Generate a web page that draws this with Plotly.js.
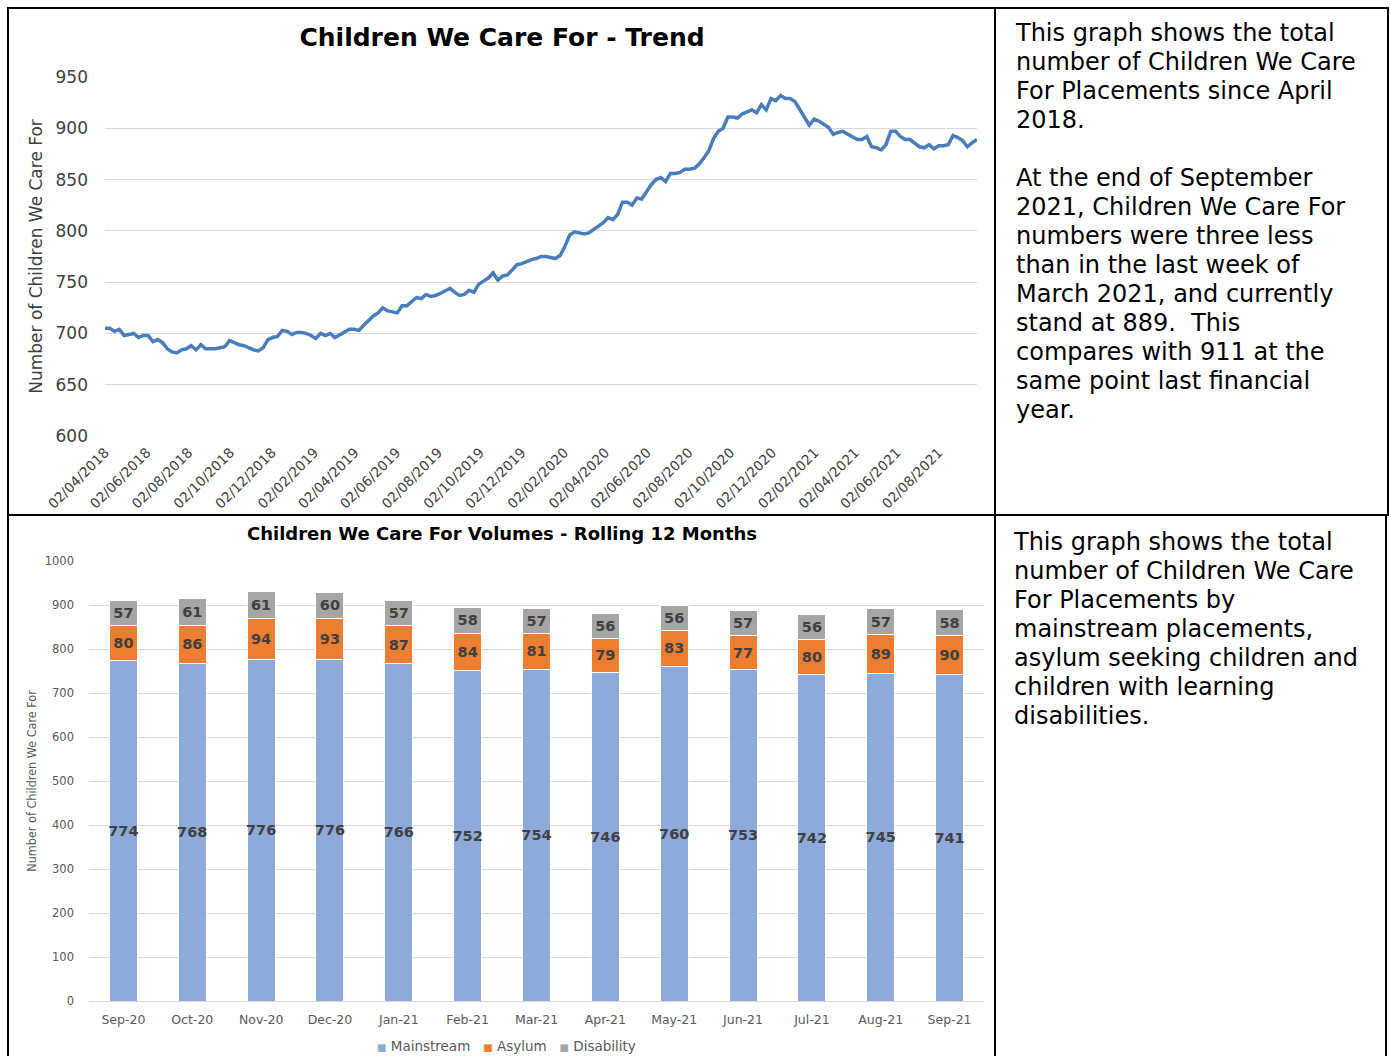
<!DOCTYPE html>
<html>
<head>
<meta charset="utf-8">
<script src="https://cdn.plot.ly/plotly-3.0.1.min.js"></script>
<style>
  html, body { margin: 0; padding: 0; background: #ffffff; }
  body { width: 1390px; height: 1056px; position: relative; overflow: hidden; font-family: "DejaVu Sans", Verdana, sans-serif; }
  .ln { position: absolute; background: #000; }
  .txt { position: absolute; font-family: "DejaVu Sans", Verdana, sans-serif; font-size: 24px; line-height: 29px; color: #000; white-space: nowrap; }
  #trend { position: absolute; left: 10px; top: 10px; width: 984px; height: 504px; }
  #volumes { position: absolute; left: 10px; top: 517px; width: 984px; height: 539px; }
</style>
</head>
<body>
<div id="trend"></div>
<div id="volumes"></div>

<div class="ln" style="left:8px; top:7px; width:1381px; height:2px;"></div>
<div class="ln" style="left:8px; top:514px; width:1381px; height:2px;"></div>
<div class="ln" style="left:7px; top:7px; width:2px; height:1049px;"></div>
<div class="ln" style="left:994px; top:7px; width:2px; height:1049px;"></div>
<div class="ln" style="left:1387px; top:7px; width:2px; height:509px;"></div>
<div class="ln" style="left:1385px; top:514px; width:2px; height:542px;"></div>

<div class="txt" style="left:1016px; top:19px;">This graph shows the total<br>number of Children We Care<br>For Placements since April<br>2018.<br><br>At the end of September<br>2021, Children We Care For<br>numbers were three less<br>than in the last week of<br>March 2021, and currently<br>stand at 889.&nbsp; This<br>compares with 911 at the<br>same point last financial<br>year.</div>

<div class="txt" style="left:1014px; top:528px;">This graph shows the total<br>number of Children We Care<br>For Placements by<br>mainstream placements,<br>asylum seeking children and<br>children with learning<br>disabilities.</div>

<script>
// ---------- Top chart: weekly trend ----------
const trendStart = '2018-04-02';
const trendValues = [
  705,705,702,704,698,699,700,696,698,698,692,694,691,685,682,681,684,685,688,684,689,685,685,685,686,687,693,691,689,688,686,
  684,683,686,694,696,697,703,702,699,701,701,700,698,695,700,698,700,696,699,702,704,704,703,708,713,717,720,725,722,721,
  720,727,727,731,735,734,738,736,737,739,742,744,740,737,738,742,740,748,751,754,759,752,756,757,762,767,768,770,772,773,
  775,775,774,773,776,785,796,799,798,797,798,801,804,808,813,811,816,828,828,825,832,831,838,845,850,852,848,856,856,857,
  860,860,861,865,871,878,890,897,900,911,911,910,914,916,918,915,923,918,929,927,932,929,929,926,918,910,903,909,907,904,
  901,894,896,897,894,892,889,889,892,882,881,879,884,897,897,892,889,889,886,882,881,884,880,883,883,884,893,891,888,882,886,889
];
const trendTickLabels = ['02/04/2018','02/06/2018','02/08/2018','02/10/2018','02/12/2018','02/02/2019','02/04/2019',
  '02/06/2019','02/08/2019','02/10/2019','02/12/2019','02/02/2020','02/04/2020','02/06/2020','02/08/2020',
  '02/10/2020','02/12/2020','02/02/2021','02/04/2021','02/06/2021','02/08/2021'];

function isoFromDmy(s) { const p = s.split('/'); return p[2] + '-' + p[1] + '-' + p[0]; }
const trendDates = [];
{
  const d0 = new Date(trendStart + 'T00:00:00Z');
  for (let i = 0; i < trendValues.length; i++) {
    const d = new Date(d0.getTime() + i * 7 * 86400000);
    trendDates.push(d.toISOString().slice(0, 10));
  }
}

const FONT = 'DejaVu Sans, Verdana, sans-serif';

Plotly.newPlot('trend', [{
  type: 'scatter', mode: 'lines',
  x: trendDates, y: trendValues,
  line: { color: '#4a7ebb', width: 3.5 },
  hoverinfo: 'x+y'
}], {
  width: 984, height: 504,
  margin: { l: 95, r: 17, t: 67, b: 78, pad: 0, autoexpand: false },
  paper_bgcolor: '#ffffff', plot_bgcolor: '#ffffff',
  showlegend: false,
  title: { text: '<b>Children We Care For - Trend</b>', font: { family: FONT, size: 25, color: '#000000' },
           xref: 'container', x: 0.5, xanchor: 'center', yref: 'container', y: 1 - 27 / 504, yanchor: 'middle' },
  xaxis: {
    type: 'date',
    range: [trendDates[0], trendDates[trendDates.length - 1]],
    tickmode: 'array',
    tickvals: trendTickLabels.map(isoFromDmy),
    ticktext: trendTickLabels,
    tickangle: -45,
    ticklabelstandoff: 5,
    tickfont: { family: FONT, size: 13.7, color: '#404040' },
    showgrid: false, zeroline: false, showline: false, ticks: ''
  },
  yaxis: {
    range: [600, 950], dtick: 50, tick0: 600,
    tickfont: { family: FONT, size: 17, color: '#404040' },
    gridcolor: '#d9d9d9', gridwidth: 1, zeroline: false, showline: false, ticks: '',
    ticklabelstandoff: 16,
    title: { text: 'Number of Children We Care For', font: { family: FONT, size: 17, color: '#404040' }, standoff: 8 }
  }
}, { staticPlot: true, displayModeBar: false });

// ---------- Bottom chart: rolling 12 months ----------
const months = ['Sep-20','Oct-20','Nov-20','Dec-20','Jan-21','Feb-21','Mar-21','Apr-21','May-21','Jun-21','Jul-21','Aug-21','Sep-21'];
const mainstream = [774,768,776,776,766,752,754,746,760,753,742,745,741];
const asylum     = [80,86,94,93,87,84,81,79,83,77,80,89,90];
const disability = [57,61,61,60,57,58,57,56,56,57,56,57,58];
const seriesNames = ['Mainstream', 'Asylum', 'Disability'];
const seriesColors = ['#8eaadb', '#ed7d31', '#a5a5a5'];

function barTrace(name, vals, color) {
  return {
    type: 'bar', name: name, x: months, y: vals,
    marker: { color: color, line: { color: '#ffffff', width: 1 } },
    text: vals.map(String), texttemplate: '%{text}',
    textposition: 'inside', insidetextanchor: 'middle', constraintext: 'none', textangle: 0,
    textfont: { family: FONT, size: 14.5, color: '#404040', weight: 'bold' },
    hoverinfo: 'name+y'
  };
}

const legendText = seriesNames.map((n, i) =>
  '<span style="color:' + seriesColors[i] + ';font-size:10px">■</span> ' + n).join('   ');

Plotly.newPlot('volumes', [
  barTrace(seriesNames[0], mainstream, seriesColors[0]),
  barTrace(seriesNames[1], asylum, seriesColors[1]),
  barTrace(seriesNames[2], disability, seriesColors[2])
], {
  width: 984, height: 539,
  margin: { l: 78.5, r: 9.5, t: 44, b: 55, pad: 0, autoexpand: false },
  paper_bgcolor: '#ffffff', plot_bgcolor: '#ffffff',
  barmode: 'stack', bargap: 0.594,
  showlegend: false,
  title: { text: '<b>Children We Care For Volumes - Rolling 12 Months</b>', font: { family: FONT, size: 18, color: '#000000' },
           xref: 'container', x: 0.5, xanchor: 'center', yref: 'container', y: 1 - 17 / 539, yanchor: 'middle' },
  xaxis: {
    type: 'category',
    tickangle: 0,
    ticklabelstandoff: 7,
    tickfont: { family: FONT, size: 12.5, color: '#595959' },
    showgrid: false, zeroline: false, showline: true, linecolor: '#d9d9d9', linewidth: 1, ticks: ''
  },
  yaxis: {
    range: [0, 1000], dtick: 100, tick0: 0,
    tickfont: { family: FONT, size: 11.5, color: '#595959' },
    gridcolor: '#d9d9d9', gridwidth: 1, zeroline: false, showline: false, ticks: '',
    ticklabelstandoff: 14,
    title: { text: 'Number of Children We Care For', font: { family: 'Liberation Sans Narrow, DejaVu Sans Condensed, sans-serif', size: 12.5, color: '#595959' }, standoff: 5 }
  },
  annotations: [{
    text: legendText, showarrow: false,
    xref: 'paper', yref: 'paper', x: (496 - 78.5) / 896, y: -45 / 440, xanchor: 'center', yanchor: 'middle',
    font: { family: FONT, size: 13.5, color: '#595959' }
  }]
}, { staticPlot: true, displayModeBar: false });
</script>
</body>
</html>
